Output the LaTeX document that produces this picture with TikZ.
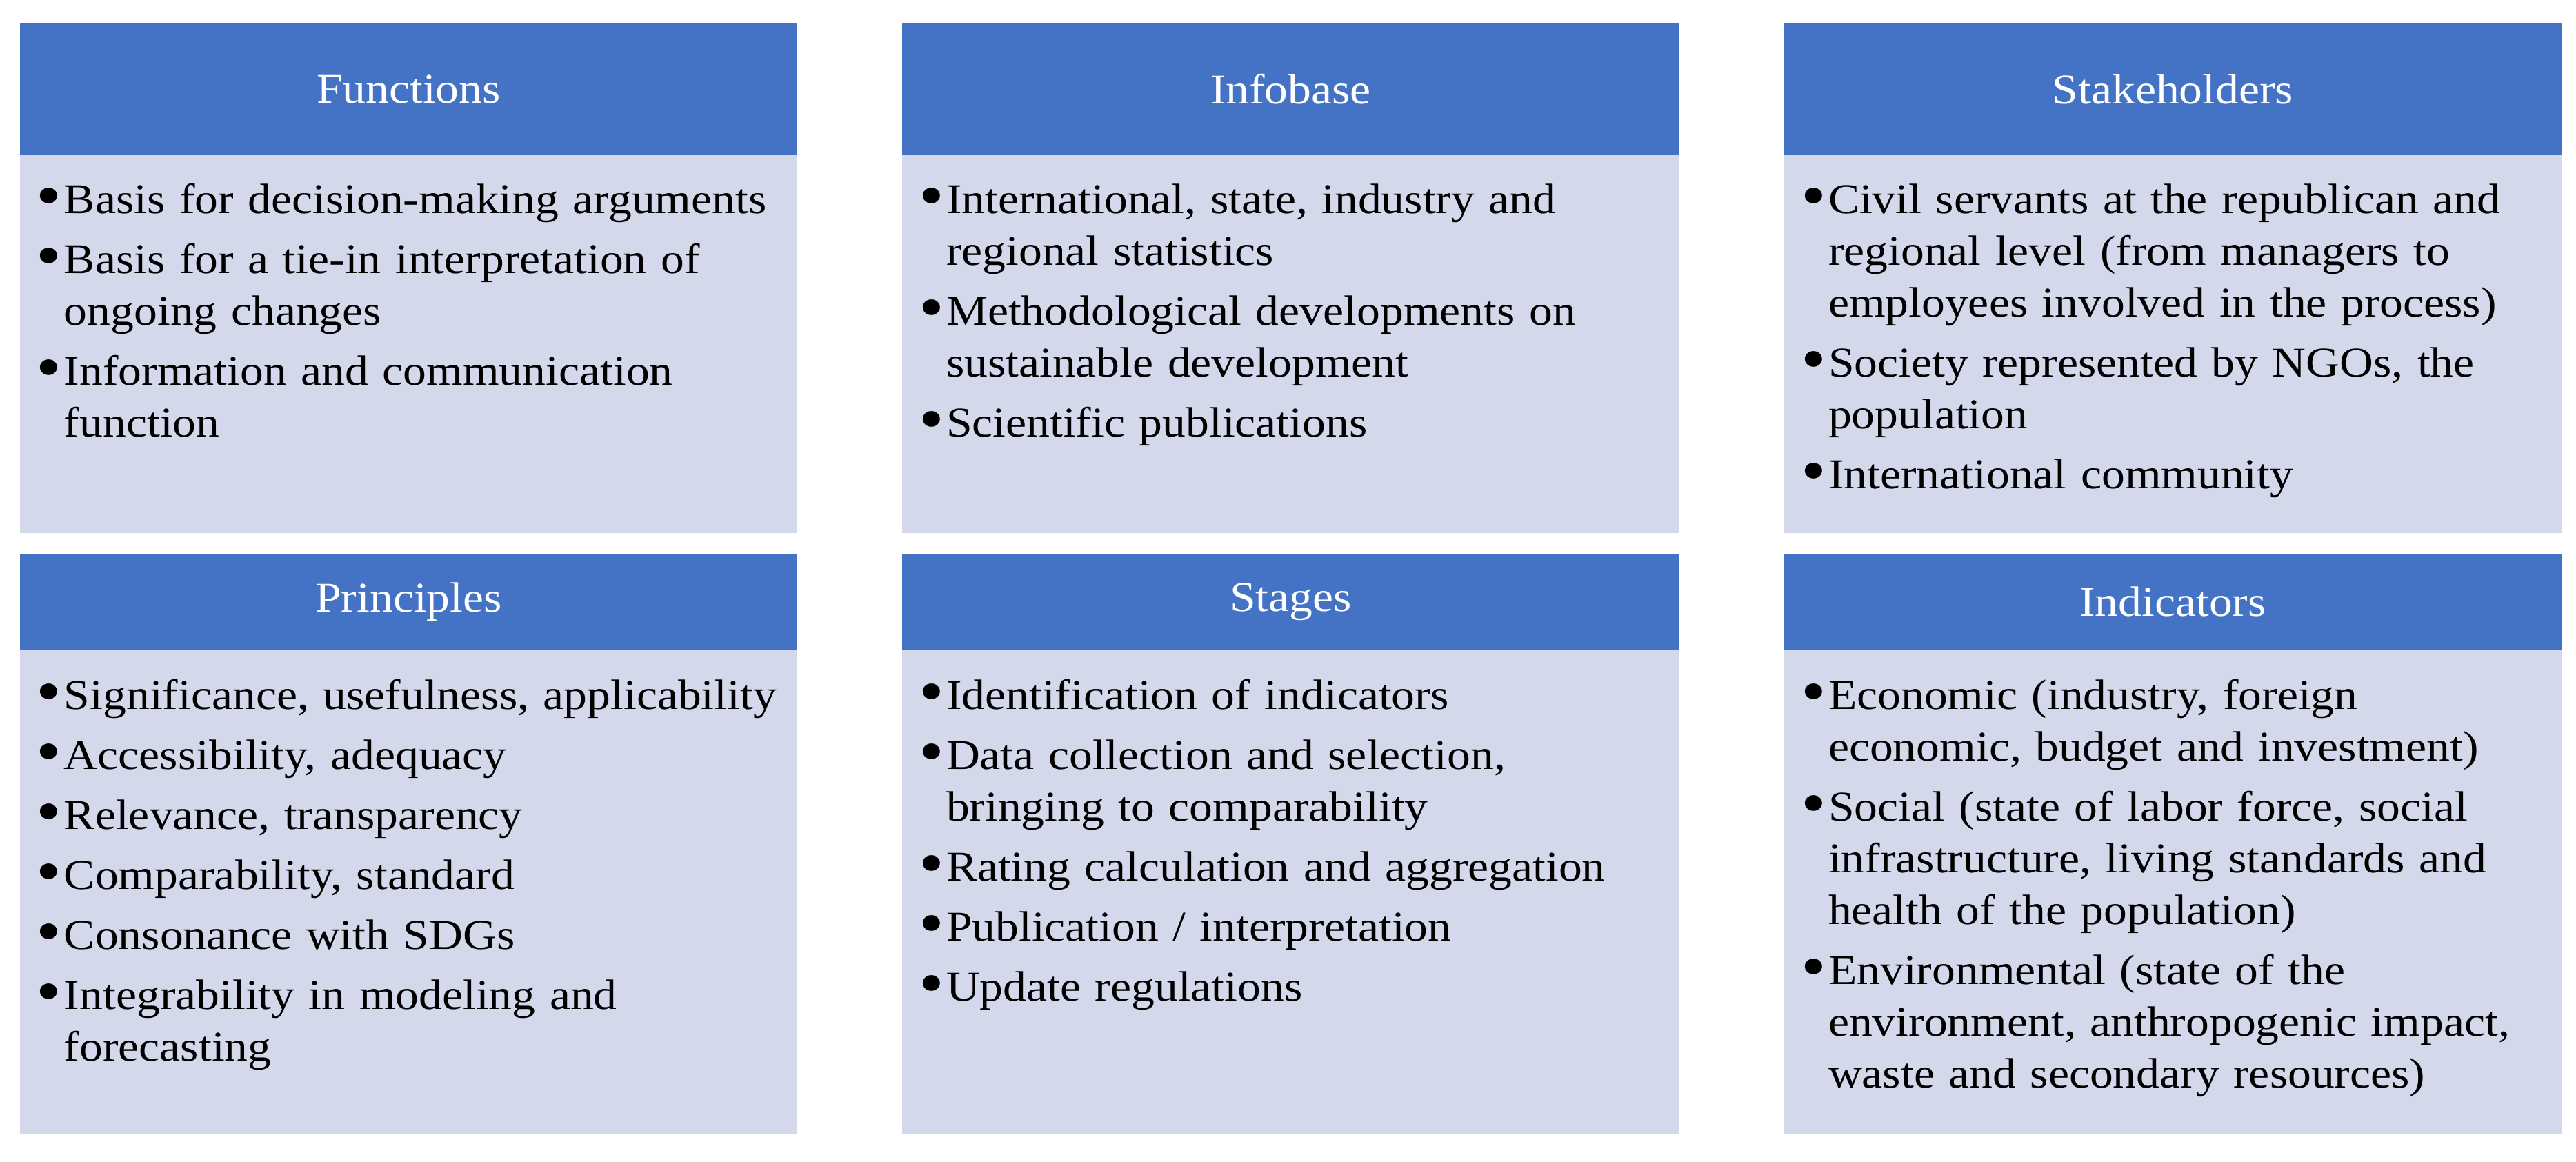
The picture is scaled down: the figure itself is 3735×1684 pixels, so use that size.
\documentclass[tikz,border=0pt]{standalone}
\usepackage{fontspec}
\setmainfont{Liberation Serif}[FakeStretch=1.1]
\definecolor{hdrblue}{HTML}{4472C4}
\definecolor{bodyblue}{HTML}{D3D8EA}
\newlength\bulind \setlength\bulind{12.8pt}
\newcommand\bitem{\par\noindent\hangindent=\bulind\hangafter=1\makebox[\bulind][l]{\hspace*{4.8pt}\raisebox{-1.3pt}{\scalebox{1.55}{•}}}\ignorespaces}
\newcommand\fs{\rule{0pt}{12pt}}
\newcommand\nl{\unskip\hfil\break\ignorespaces}
\newcommand\bodysetup{\setlength\parskip{2.4pt}\setlength\parindent{0pt}\hyphenpenalty=10000\exhyphenpenalty=10000}
\tikzset{
  hdr/.style={fill=hdrblue, draw=none, text=white, anchor=north west,
    minimum width=225.4pt, inner sep=0pt, font=\fontsize{12.3}{15}\selectfont},
  bodybox/.style={fill=bodyblue, draw=none, anchor=north west,
    minimum width=225.4pt, inner sep=0pt},
  bodytext/.style={anchor=north west, inner sep=0pt, text width=224pt,
    align=left, font=\fontsize{12.3}{15}\selectfont},
  toprowhdr/.style={hdr, minimum height=38.4pt},
  toprowbody/.style={bodybox, minimum height=109.6pt},
  botrowhdr/.style={hdr, minimum height=27.8pt},
  botrowbody/.style={bodybox, minimum height=140.4pt}
}
\begin{document}
\begin{tikzpicture}[x=0.2pt, y=-0.2pt]
\useasboundingbox[fill=white] (0,0) rectangle (3735,1684);

% ---- top row ----
\node[toprowhdr]  (fh) at (28,32)   {Functions};
\node[toprowbody] (fb) at (28,224)  {};
\node[bodytext]   (ft) at (28,221)  {\bodysetup
  \bitem\fs Basis for decision-making arguments
  \bitem Basis for a tie-in interpretation of\nl ongoing changes
  \bitem Information and communication\nl function\par};

\node[toprowhdr]  (ih) at (1307,32)  {Infobase};
\node[toprowbody] (ib) at (1307,224) {};
\node[bodytext]   (it) at (1307,221) {\bodysetup
  \bitem\fs International, state, industry and\nl regional statistics
  \bitem Methodological developments on\nl sustainable development
  \bitem Scientific publications\par};

\node[toprowhdr]  (sh) at (2586,32)  {Stakeholders};
\node[toprowbody] (sb) at (2586,224) {};
\node[bodytext]   (st) at (2586,221) {\bodysetup
  \bitem\fs Civil servants at the republican and\nl regional level (from managers to\nl employees involved in the process)
  \bitem Society represented by NGOs, the\nl population
  \bitem International community\par};

% ---- bottom row ----
\node[botrowhdr]  (ph) at (28,802)  {Principles};
\node[botrowbody] (pb) at (28,941)  {};
\node[bodytext]   (pt) at (28,940)  {\bodysetup
  \bitem\fs Significance, usefulness, applicability
  \bitem Accessibility, adequacy
  \bitem Relevance, transparency
  \bitem Comparability, standard
  \bitem Consonance with SDGs
  \bitem Integrability in modeling and\nl forecasting\par};

\node[botrowhdr]  (gh) at (1307,802) {Stages};
\node[botrowbody] (gb) at (1307,941) {};
\node[bodytext]   (gt) at (1307,940) {\bodysetup
  \bitem\fs Identification of indicators
  \bitem Data collection and selection,\nl bringing to comparability
  \bitem Rating calculation and aggregation
  \bitem Publication / interpretation
  \bitem Update regulations\par};

\node[botrowhdr]  (nh) at (2586,802) {Indicators};
\node[botrowbody] (nb) at (2586,941) {};
\node[bodytext]   (nt) at (2586,940) {\bodysetup
  \bitem\fs Economic (industry, foreign\nl economic, budget and investment)
  \bitem Social (state of labor force, social\nl infrastructure, living standards and\nl health of the population)
  \bitem Environmental (state of the\nl environment, anthropogenic impact,\nl waste and secondary resources)\par};
\end{tikzpicture}
\end{document}
